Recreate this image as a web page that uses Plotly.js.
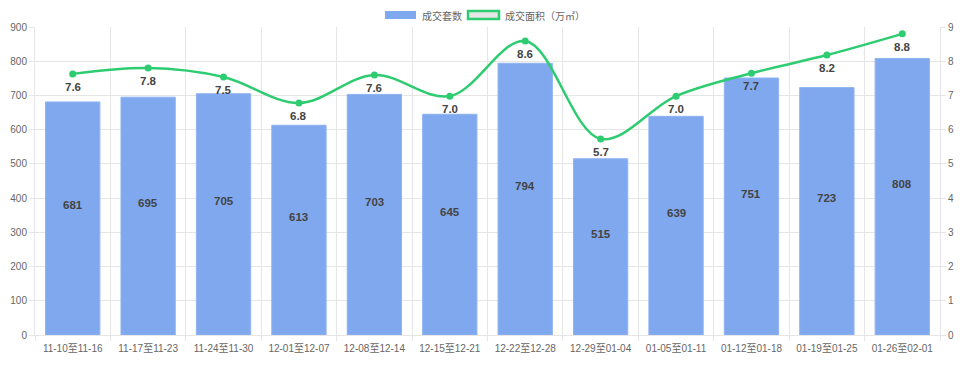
<!DOCTYPE html>
<html><head><meta charset="utf-8">
<script src="https://cdn.plot.ly/plotly-3.0.1.min.js"></script>
<style>html,body{margin:0;padding:0;background:#fff}#chart{width:960px;height:367px}</style>
</head><body><div id="chart"></div>
<script>
const categories = ["11-10至11-16","11-17至11-23","11-24至11-30","12-01至12-07","12-08至12-14","12-15至12-21","12-22至12-28","12-29至01-04","01-05至01-11","01-12至01-18","01-19至01-25","01-26至02-01"];
const units = [681,695,705,613,703,645,794,515,639,751,723,808];
const area = [7.63,7.80,7.54,6.78,7.60,6.98,8.59,5.73,6.98,7.65,8.18,8.80];
const areaLabels = ["7.6","7.8","7.5","6.8","7.6","7.0","8.6","5.7","7.0","7.7","8.2","8.8"];
const seriesNames = ["成交套数","成交面积（万㎡）"];

const barColor = "#80a8ee";
const lineColor = "#2ecc71";
const font = "Arial, 'Liberation Sans', 'Noto Sans CJK SC', sans-serif";
const cjk = "'Noto Sans CJK SC', sans-serif";

const W = 960, H = 367;
const M = {l:35, r:20, t:27, b:32};
const pw = W - M.l - M.r;
const px = p => (p - M.l) / pw;   // page pixel -> paper x

const traces = [
  {type:"bar", x:categories, y:units, name:seriesNames[0], marker:{color:barColor, line:{color:"#8fb3f0", width:1}}, width:0.72, showlegend:false},
  {type:"scatter", mode:"lines+markers", x:categories, y:area, yaxis:"y2", name:seriesNames[1], showlegend:false,
   line:{color:lineColor, width:2.5, shape:"spline", smoothing:1}, marker:{color:lineColor, size:7}}
];

const annotations = [];
categories.forEach((c,i)=>{
  annotations.push({x:c, y:units[i]/2, xref:"x", yref:"y", text:String(units[i]), showarrow:false, yshift:13,
    font:{family:font, size:11.5, color:"#444", weight:"bold"}});
  annotations.push({x:c, y:area[i], xref:"x", yref:"y2", text:areaLabels[i], showarrow:false, yshift:-13,
    font:{family:font, size:11.5, color:"#444", weight:"bold"}});
});

// legend (Chart.js style boxes)
const shapes = [
  {type:"rect", xref:"paper", yref:"paper", x0:px(385), x1:px(416), ysizemode:"pixel", yanchor:1, y0:8, y1:16,
   fillcolor:barColor, line:{width:0}},
  {type:"rect", xref:"paper", yref:"paper", x0:px(468), x1:px(499), ysizemode:"pixel", yanchor:1, y0:8, y1:16,
   fillcolor:"#e6e6e6", line:{color:lineColor, width:2.5}}
];
annotations.push({xref:"paper", yref:"paper", x:px(420), y:1, yshift:12, xanchor:"left", yanchor:"middle", showarrow:false,
  text:seriesNames[0], font:{family:cjk, size:10, color:"#666"}});
annotations.push({xref:"paper", yref:"paper", x:px(503), y:1, yshift:12, xanchor:"left", yanchor:"middle", showarrow:false,
  text:seriesNames[1], font:{family:cjk, size:10, color:"#666"}});

const axisCommon = {ticks:"outside", ticklen:5, tickcolor:"#e6e6e6", showline:true, linecolor:"#e6e6e6", zeroline:false,
  automargin:false, tickfont:{family:font, size:10, color:"#666"}};

const layout = {
  width:W, height:H,
  margin:M,
  paper_bgcolor:"#fff", plot_bgcolor:"#fff",
  font:{family:font, size:10, color:"#666"},
  showlegend:false,
  xaxis:Object.assign({type:"category", range:[-0.5, categories.length-0.5], tickson:"boundaries", showgrid:true, gridcolor:"#e6e6e6", tickangle:0, ticklabelstandoff:4}, axisCommon),
  yaxis:Object.assign({range:[0,900], dtick:100, showgrid:true, gridcolor:"#e6e6e6"}, axisCommon),
  yaxis2:Object.assign({range:[0,9], dtick:1, overlaying:"y", side:"right", showgrid:false}, axisCommon),
  shapes:shapes,
  annotations:annotations
};
Plotly.newPlot("chart", traces, layout, {displayModeBar:false, staticPlot:true});
</script></body></html>
